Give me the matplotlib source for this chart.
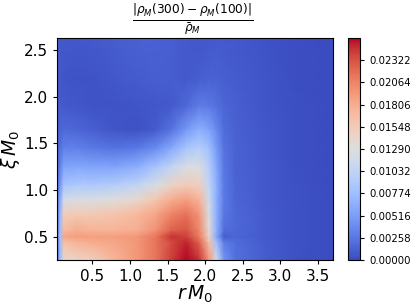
import numpy as np
import matplotlib
matplotlib.use("Agg")
import matplotlib.pyplot as plt

r_vals = [0.03, 0.07, 0.12, 0.3, 0.5, 0.8, 1.1, 1.35, 1.55, 1.75, 1.92, 2.05, 2.15, 2.25, 2.4, 2.8, 3.2, 3.7]
xi_vals = [0.25, 0.44, 0.5, 0.57, 0.75, 0.9, 1.05, 1.25, 1.45, 1.65, 1.9, 2.2, 2.63]
# one row per xi value, one column per r value, units of 1e-3
rho_diff = [
    [2.0, 7.0, 14.0, 14.5, 15.0, 17.5, 19.5, 21.5, 24.0, 25.8, 24.5, 19.5, 12.0, 4.5, 2.2, 1.0, 0.4, 0.1],
    [2.0, 7.5, 16.5, 17.5, 18.0, 18.5, 19.5, 21.5, 23.5, 25.0, 22.5, 16.5, 8.0, 3.0, 2.0, 1.0, 0.4, 0.1],
    [2.0, 8.0, 18.5, 19.0, 19.0, 19.0, 19.5, 21.5, 24.5, 24.0, 21.0, 14.5, 6.0, 1.0, 1.6, 0.9, 0.4, 0.1],
    [2.0, 7.5, 17.0, 18.0, 17.5, 17.5, 18.0, 20.0, 22.5, 23.0, 20.5, 13.5, 6.5, 2.0, 1.7, 0.9, 0.4, 0.1],
    [2.0, 7.0, 15.0, 15.5, 15.5, 16.0, 17.0, 18.5, 20.5, 21.5, 19.5, 12.5, 6.5, 2.6, 1.7, 0.9, 0.4, 0.1],
    [2.0, 6.0, 12.0, 12.5, 12.5, 13.0, 14.0, 16.0, 18.0, 19.0, 17.5, 11.5, 6.5, 2.8, 1.6, 0.8, 0.4, 0.1],
    [1.8, 4.5, 8.5, 9.0, 9.0, 9.5, 10.5, 12.5, 14.5, 15.5, 15.0, 10.5, 6.5, 2.8, 1.5, 0.8, 0.4, 0.1],
    [1.5, 3.2, 5.5, 5.8, 5.6, 5.6, 6.5, 8.5, 10.5, 12.5, 12.5, 9.5, 6.0, 2.6, 1.4, 0.8, 0.3, 0.1],
    [1.2, 2.2, 3.2, 3.2, 2.8, 2.4, 2.8, 4.0, 6.0, 8.5, 9.5, 8.0, 5.0, 2.4, 1.4, 0.7, 0.3, 0.1],
    [1.0, 1.6, 1.8, 1.6, 1.2, 0.6, 0.4, 1.0, 2.4, 4.8, 6.5, 5.5, 3.8, 2.0, 1.3, 0.7, 0.3, 0.1],
    [0.8, 1.0, 0.9, 0.7, 0.5, 0.5, 0.6, 0.7, 0.9, 1.8, 3.0, 2.8, 2.3, 1.6, 1.2, 0.6, 0.3, 0.1],
    [0.7, 0.8, 0.6, 0.5, 0.5, 0.8, 1.0, 1.2, 1.1, 0.9, 1.1, 1.3, 1.3, 1.2, 1.0, 0.6, 0.2, 0.1],
    [0.9, 0.9, 0.8, 0.8, 0.9, 1.1, 1.3, 1.3, 1.2, 0.9, 0.7, 0.8, 0.9, 0.9, 0.8, 0.5, 0.2, 0.1],
]
cbar_ticks = [0.0, 0.00258, 0.00516, 0.00774, 0.01032, 0.0129, 0.01548, 0.01806, 0.02064, 0.02322]

fig = plt.figure(figsize=(4.16, 3.07), dpi=100)
ax = fig.add_axes([57 / 416, 1 - 260 / 307, 276 / 416, 222 / 307])
z = np.array(rho_diff) * 1e-3
mesh = ax.pcolormesh(r_vals, xi_vals, z, shading='gouraud', cmap='coolwarm', vmin=0, vmax=0.0258)
ax.set_xlim(0.03, 3.7)
ax.set_ylim(0.25, 2.63)
ax.set_xticks([0.5, 1.0, 1.5, 2.0, 2.5, 3.0, 3.5])
ax.set_yticks([0.5, 1.0, 1.5, 2.0, 2.5])
ax.tick_params(labelsize=11, length=3)
ax.set_xlabel(r'$r\,M_0$', fontsize=13.5, labelpad=0)
ax.set_ylabel(r'$\xi\,M_0$', fontsize=13.5, labelpad=1)
ax.set_title(r'$\frac{|\rho_M(300)-\rho_M(100)|}{\bar{\rho}_M}$', fontsize=12.5, pad=-2, x=0.49)

cax = fig.add_axes([348 / 416, 1 - 260 / 307, 12 / 416, 222 / 307])
cb = fig.colorbar(mesh, cax=cax)
cb.set_ticks(cbar_ticks)
cb.set_ticklabels(['%.5f' % t for t in cbar_ticks])
cb.ax.tick_params(labelsize=7.3, length=3)

fig.savefig('out.png', dpi=100)
